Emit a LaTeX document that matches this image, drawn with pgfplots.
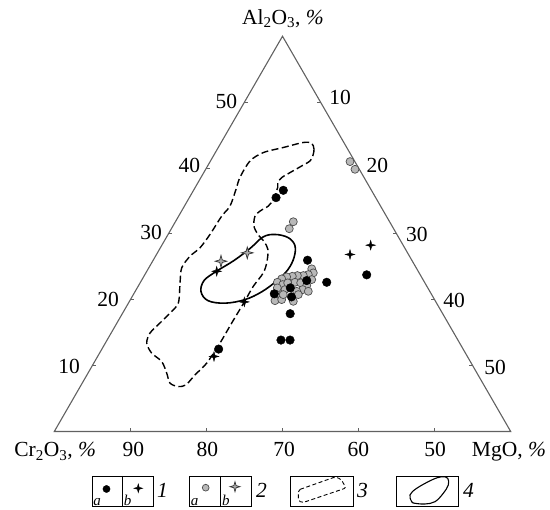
\documentclass[border=0pt]{standalone}
\usepackage{pgfplots}
\pgfplotsset{compat=1.18}
\usepackage{pgfplotstable}
\usepackage{fontspec}
\setmainfont{Liberation Serif}
\newcommand{\PX}[2]{({(#1-54.3)*1pt},{(431.5-#2)*1pt})}
\newcommand{\lab}{\fontsize{21.5}{24}\selectfont}
\newcommand{\sml}{\fontsize{15}{17}\selectfont\itshape}
\pgfplotsset{
  table/tern/.style={x expr=\thisrow{mg}+0.5*\thisrow{al}, y expr=0.8660254*\thisrow{al}},
  table/pix/.style={x expr=(\thisrow{px}-54.3)/7.6067, y expr=(431.5-\thisrow{py})/7.6067},
}
\pgfdeclareplotmark{star4}{%
 \pgfpathmoveto{\pgfqpoint{0pt}{\pgfplotmarksize}}%
 \pgfpathlineto{\pgfqpoint{0.22\pgfplotmarksize}{0.22\pgfplotmarksize}}%
 \pgfpathlineto{\pgfqpoint{\pgfplotmarksize}{0pt}}%
 \pgfpathlineto{\pgfqpoint{0.22\pgfplotmarksize}{-0.22\pgfplotmarksize}}%
 \pgfpathlineto{\pgfqpoint{0pt}{-\pgfplotmarksize}}%
 \pgfpathlineto{\pgfqpoint{-0.22\pgfplotmarksize}{-0.22\pgfplotmarksize}}%
 \pgfpathlineto{\pgfqpoint{-\pgfplotmarksize}{0pt}}%
 \pgfpathlineto{\pgfqpoint{-0.22\pgfplotmarksize}{0.22\pgfplotmarksize}}%
 \pgfpathclose
 \pgfusepathqfillstroke
}
% compositions: al = Al2O3 %, mg = MgO % (Cr2O3 = 100 - al - mg)
\pgfplotstableread{
al mg
24.69 21.50
24.08 22.01
23.82 21.48
23.67 20.90
23.67 20.12
23.56 19.51
23.47 18.81
23.17 18.31
22.65 18.00
22.30 18.88
21.80 18.42
21.54 19.56
22.65 20.32
22.56 21.11
22.15 22.11
21.54 21.89
21.28 21.23
21.28 22.75
20.78 18.85
19.86 19.08
20.02 19.88
19.76 21.54
20.78 21.69
22.56 19.40
23.06 22.31
20.78 19.71
31.84 15.50
30.78 15.50
40.97 18.39
39.80 19.63
}\grayA
\pgfplotstableread{
al mg
36.61 11.80
35.50 11.40
26.00 20.29
22.65 24.49
23.78 29.18
20.90 18.47
21.80 20.13
22.91 21.73
20.43 20.97
17.88 22.07
13.88 22.86
13.88 24.05
12.51 15.35
}\blackA
\pgfplotstableread{
al mg
26.87 25.44
28.28 27.45
24.32 9.19
19.67 15.15
11.39 15.30
}\blackB
\pgfplotstableread{
al mg
25.85 8.99
27.12 11.81
}\grayB
\pgfplotstableread{
al mg
43.76 11.96
42.85 12.72
41.93 13.04
41.07 13.09
40.31 12.37
39.30 11.34
38.54 10.62
37.78 10.48
37.06 10.84
35.24 11.17
34.22 11.02
33.46 10.31
32.65 10.05
31.17 10.66
29.91 11.82
28.84 13.15
27.63 14.27
25.80 15.06
24.08 15.44
22.04 15.14
19.67 15.15
16.47 15.09
13.42 15.07
10.38 14.85
8.60 14.20
7.08 13.77
6.82 12.89
7.34 11.54
8.86 10.35
10.62 8.81
11.90 6.85
13.42 5.44
14.95 5.11
16.47 5.66
17.99 6.22
19.51 6.55
22.56 5.25
24.84 4.33
26.61 4.54
27.88 5.21
29.91 5.51
32.69 5.66
34.22 5.99
36.76 5.51
38.58 5.12
41.07 5.20
42.34 6.31
43.11 8.55
43.87 10.80
}\fieldC
\pgfplotstableread{
al mg
29.53 12.68
29.91 14.05
29.45 15.99
28.23 17.52
26.41 18.31
24.58 18.43
22.91 17.83
21.23 16.69
20.02 15.06
19.48 12.70
19.86 10.28
21.23 8.67
22.91 8.23
24.28 9.12
25.95 10.64
27.78 11.84
}\fieldD
\pgfplotstableread{
px py
106.5 489
}\legA
\pgfplotstableread{
px py
138.3 488.3
}\legB
\pgfplotstableread{
px py
205.7 487.7
}\legC
\pgfplotstableread{
px py
235 486.7
}\legD
\begin{document}
\begin{tikzpicture}
\begin{axis}[
  at={(0,0)}, anchor=south west,
  x=7.6067pt, y=7.6067pt,
  xmin=0, xmax=60, ymin=0, ymax=51.9615,
  hide axis, clip=false,
]
\draw[black!62, line width=1.1pt, line join=miter] (axis cs:0,0) -- (axis cs:60,0) -- (axis cs:30,51.9615) -- cycle;
\pgfplotsinvokeforeach{10,20,30,40,50}{
  \draw[black!62, line width=0.8pt] (axis cs:#1,0) -- (axis cs:#1,0.45);
  \draw[black!62, line width=0.8pt] (axis cs:{#1/2},{0.8660254*#1}) -- (axis cs:{#1/2+0.45},{0.8660254*#1});
  \draw[black!62, line width=0.8pt] (axis cs:{30+#1/2},{0.8660254*(60-#1)}) -- (axis cs:{30+#1/2-0.45},{0.8660254*(60-#1)});
}
\addplot[black, line width=1.4pt, dash pattern=on 7pt off 3.5pt, smooth cycle, tension=0.5, mark=none] table[tern] {\fieldC};
\addplot[black, line width=1.6pt, smooth cycle, tension=0.6, mark=none] table[tern] {\fieldD};
\addplot[only marks, mark=*, mark size=4.0pt, mark options={fill=black!28, draw=black!70, line width=0.7pt}] table[tern] {\grayA};
\addplot[only marks, mark=*, mark size=4.3pt, mark options={fill=black, draw=black}] table[tern] {\blackA};
\addplot[only marks, mark=star4, mark size=4.8pt, mark options={fill=black, draw=black, line width=0.4pt}] table[tern] {\blackB};
\addplot[only marks, mark=star4, mark size=5.8pt, mark options={fill=black!32, draw=black!80, line width=0.7pt}] table[tern] {\grayB};
% legend samples
\addplot[only marks, mark=*, mark size=3.6pt, mark options={fill=black, draw=black}] table[pix] {\legA};
\addplot[only marks, mark=star4, mark size=4.4pt, mark options={fill=black, draw=black, line width=0.4pt}] table[pix] {\legB};
\addplot[only marks, mark=*, mark size=3.4pt, mark options={fill=black!28, draw=black!70, line width=0.7pt}] table[pix] {\legC};
\addplot[only marks, mark=star4, mark size=5pt, mark options={fill=black!32, draw=black!80, line width=0.7pt}] table[pix] {\legD};
\end{axis}
\pgfresetboundingbox
\path[use as bounding box] \PX{0}{0} rectangle \PX{550}{510};
\tikzset{every node/.style={inner sep=0pt, outer sep=0pt}}
\node[anchor=base, font=\lab] at \PX{283}{24.5} {Al\textsubscript{2}O\textsubscript{3}, \textit{\%}};
\node[anchor=base east, font=\lab] at \PX{96}{457} {Cr\textsubscript{2}O\textsubscript{3}, \textit{\%}};
\node[anchor=base east, font=\lab] at \PX{546}{457} {MgO, \textit{\%}};
\node[anchor=base, font=\lab] at \PX{133.3}{457} {90};
\node[anchor=base, font=\lab] at \PX{207.3}{457} {80};
\node[anchor=base, font=\lab] at \PX{284}{457} {70};
\node[anchor=base, font=\lab] at \PX{358.3}{457} {60};
\node[anchor=base, font=\lab] at \PX{435}{457} {50};
\node[anchor=base east, font=\lab] at \PX{237}{109} {50};
\node[anchor=base east, font=\lab] at \PX{200}{173} {40};
\node[anchor=base east, font=\lab] at \PX{162}{240} {30};
\node[anchor=base east, font=\lab] at \PX{119}{307} {20};
\node[anchor=base east, font=\lab] at \PX{80}{374} {10};
\node[anchor=base west, font=\lab] at \PX{329.3}{105} {10};
\node[anchor=base west, font=\lab] at \PX{366.7}{172.7} {20};
\node[anchor=base west, font=\lab] at \PX{406}{241.5} {30};
\node[anchor=base west, font=\lab] at \PX{443.3}{308} {40};
\node[anchor=base west, font=\lab] at \PX{484.3}{375} {50};
% legend
\draw[line width=0.9pt] \PX{92}{476} rectangle \PX{153}{506};
\draw[line width=0.9pt] \PX{122.5}{476} -- \PX{122.5}{506};
\draw[line width=0.9pt] \PX{189.5}{476} rectangle \PX{251}{506};
\draw[line width=0.9pt] \PX{220}{476} -- \PX{220}{506};
\draw[line width=0.9pt] \PX{290}{476} rectangle \PX{353.3}{506};
\draw[line width=0.9pt] \PX{396.7}{476} rectangle \PX{458.3}{506};
\draw[line width=0.9pt, dash pattern=on 4pt off 2.5pt, rounded corners=2pt] \PX{298.3}{490} -- \PX{335}{477} -- \PX{341}{479} -- \PX{346}{488} -- \PX{301.7}{503} -- \PX{298.3}{500} -- cycle;
\draw[line width=1.1pt] plot[smooth cycle, tension=0.6] coordinates {(357.4pt,-70.2pt) (355.7pt,-63.5pt) (362.4pt,-56.8pt) (377.4pt,-48.5pt) (387.4pt,-45.2pt) (393.4pt,-46.8pt) (394pt,-53.5pt) (389pt,-61.8pt) (380.7pt,-70.2pt) (370.7pt,-72.5pt) (360.7pt,-71.8pt)};
\node[anchor=base west, font=\sml] at \PX{93.5}{506} {a};
\node[anchor=base west, font=\sml] at \PX{124}{506} {b};
\node[anchor=base west, font=\sml] at \PX{191}{506} {a};
\node[anchor=base west, font=\sml] at \PX{222}{506} {b};
\node[anchor=base west, font=\lab\itshape] at \PX{157}{498} {1};
\node[anchor=base west, font=\lab\itshape] at \PX{256}{498} {2};
\node[anchor=base west, font=\lab\itshape] at \PX{357}{498} {3};
\node[anchor=base west, font=\lab\itshape] at \PX{463}{498} {4};
\end{tikzpicture}
\end{document}
